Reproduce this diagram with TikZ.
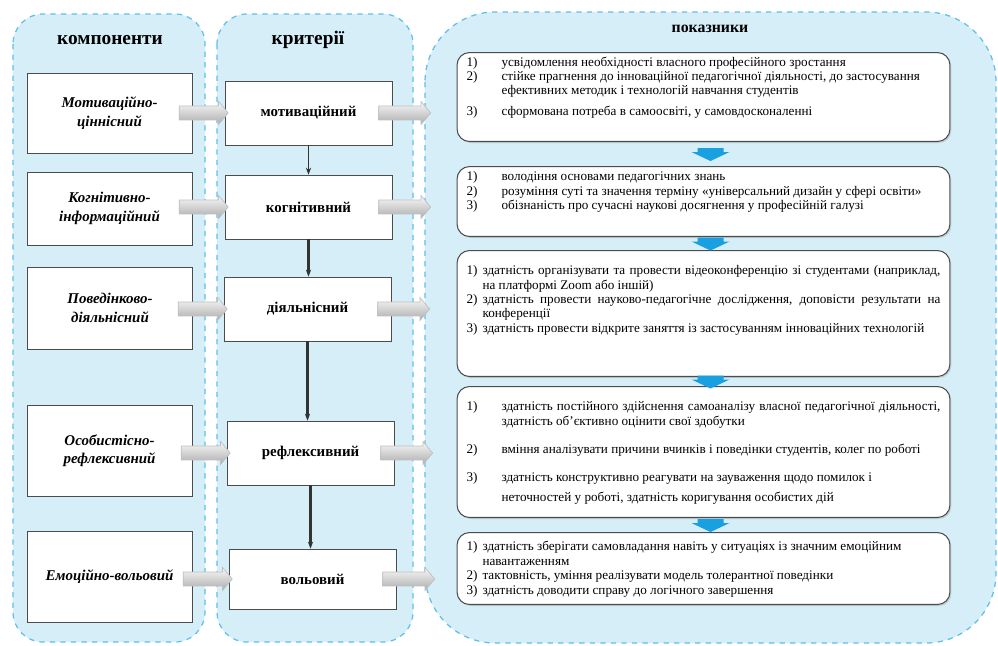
\documentclass[tikz,border=0pt]{standalone}
\usepackage{fontspec}
\setmainfont{Liberation Serif}
\usetikzlibrary{positioning, calc, arrows.meta, shapes.arrows, shadows}

\definecolor{panelblue}{RGB}{213,238,248}
\definecolor{dashblue}{RGB}{95,190,235}
\definecolor{arrowblue}{RGB}{25,160,225}

\newcommand{\pitem}[3]{\par\noindent\hangindent=#1\hangafter=1\makebox[#1][l]{#2}#3}
\newcommand{\rtext}[2]{\begin{minipage}[c][#1][t]{9.48cm}\fontsize{7.5}{8.2}\selectfont #2\end{minipage}}

\begin{document}
\begin{tikzpicture}[x=0.02cm, y=-0.02cm,
  panel/.style={draw=dashblue, dashed, fill=panelblue, line width=0.7pt},
  title/.style={font=\fontsize{11}{13}\selectfont\bfseries},
  kbox/.style={rectangle, draw=gray!60!black, fill=white, minimum width=3.3cm, align=center, font=\fontsize{8.5}{10.5}\selectfont\bfseries\itshape},
  cbox/.style={rectangle, draw=gray!60!black, fill=white, minimum width=3.34cm, minimum height=1.28cm, align=center, font=\fontsize{8.5}{10}\selectfont\bfseries},
  rbox/.style={rectangle, rounded corners=0.25cm, draw=gray!60!black, fill=white, line width=0.6pt, inner xsep=0.19cm, inner ysep=0.1cm, anchor=north, drop shadow={opacity=0.25, shadow xshift=0.03cm, shadow yshift=-0.03cm}},
  garrow/.style={single arrow, draw=gray!50, top color=gray!5, bottom color=gray!65, minimum height=0.98cm, minimum width=0.46cm, inner sep=0.13cm, single arrow head extend=0.09cm, single arrow tip angle=100},
  varrow/.style={-{Stealth[length=4pt]}, black!80, line width=1.3pt}]
\useasboundingbox (0,0) rectangle (998,646);

\draw[panel, rounded corners=0.6cm] (13,14) rectangle (205,642);
\draw[panel, rounded corners=0.6cm] (217,14) rectangle (413,642);
\draw[panel, rounded corners=1.4cm] (425,12) rectangle (996,643);

\node (tk) [title] at (110,40) {компоненти};
\node (tc) [title] at (308,40) {критерії};
\node (tp) [title, font=\fontsize{9}{11}\selectfont\bfseries] at (710,29) {показники};

\node (k1) [kbox, minimum height=1.6cm] at (109.5,113) {Мотиваційно-\\ціннісний};
\node (k2) [kbox, minimum height=1.46cm] at (109.5,208.5) {Когнітивно-\\інформаційний};
\node (k3) [kbox, minimum height=1.64cm] at (110,308) {Поведінково-\\діяльнісний};
\node (k4) [kbox, minimum height=1.82cm] at (109.5,450.5) {Особистісно-\\рефлексивний};
\node (k5) [kbox, minimum height=1.82cm] at (109.5,576.5) {Емоційно-вольовий};

\node (c1) [cbox] at (308.5,113) {мотиваційний};
\node (c2) [cbox] at (308.5,207) {когнітивний};
\node (c3) [cbox] at (307.5,309) {діяльнісний};
\node (c4) [cbox] at (310.5,453) {рефлексивний};
\node (c5) [cbox, minimum height=1.2cm] at (312.5,579) {вольовий};

\draw [varrow, line width=0.8pt] (c1.south) -- (c1.south |- c2.north);
\draw [varrow] (c2.south) -- (c2.south |- c3.north);
\draw [varrow] (c3.south) -- (c3.south |- c4.north);
\draw [varrow] (c4.south) -- (c4.south |- c5.north);

\foreach \i in {1,...,5} {
  \node [garrow, anchor=tip] at ([xshift=0.08cm]c\i.west) {};
  \node [garrow, anchor=tail, minimum height=1.04cm] at ([xshift=-0.28cm]c\i.east) {};
}

\node (r1) [rbox] at (703.5,52) {\rtext{1.58cm}{\fontsize{7.5}{7.7}\selectfont
\pitem{0.7cm}{1)}{усвідомлення необхідності власного професійного зростання}
\pitem{0.7cm}{2)}{стійке прагнення до інноваційної педагогічної діяльності, до застосування\newline ефективних методик і технологій навчання студентів}
\par\vspace{0.15cm}
\pitem{0.7cm}{3)}{сформована потреба в самоосвіті, у самовдосконаленні}}};

\node (r2) [rbox] at (703.5,166) {\rtext{1.2cm}{
\pitem{0.7cm}{1)}{володіння основами педагогічних знань}
\pitem{0.7cm}{2)}{розуміння суті та значення терміну «універсальний дизайн у сфері освіти»}
\pitem{0.7cm}{3)}{обізнаність про сучасні наукові досягнення у професійній галузі}}};

\node (r3) [rbox] at (703.5,250) {\rtext{2.32cm}{\vspace*{0.2cm}
\pitem{0.32cm}{1)}{здатність організувати та провести відеоконференцію зі студентами (наприклад, на платформі Zoom або іншій)}
\pitem{0.32cm}{2)}{здатність провести науково-педагогічне дослідження, доповісти результати на конференції}
\pitem{0.32cm}{3)}{здатність провести відкрите заняття із застосуванням інноваційних технологій}}};

\node (r4) [rbox] at (703.5,386) {\rtext{2.42cm}{\vspace*{0.2cm}
\pitem{0.7cm}{1)}{здатність постійного здійснення самоаналізу власної педагогічної діяльності, здатність об'єктивно оцінити свої здобутки}
\par\vspace{0.28cm}
\pitem{0.7cm}{2)}{вміння аналізувати причини вчинків і поведінки студентів, колег по роботі}
\par\vspace{0.28cm}
\pitem{0.7cm}{3)}{здатність конструктивно реагувати на зауваження щодо помилок і\\[0.1cm] неточностей у роботі, здатність коригування особистих дій}}};

\node (r5) [rbox] at (703.5,532) {\rtext{1.24cm}{\vspace*{0.08cm}
\pitem{0.32cm}{1)}{здатність зберігати самовладання навіть у ситуаціях із значним емоційним\newline навантаженням}
\pitem{0.32cm}{2)}{тактовність, уміння реалізувати модель толерантної поведінки}
\pitem{0.32cm}{3)}{здатність доводити справу до логічного завершення}}};

\coordinate (m1) at ($(r1.south)!0.5!(r2.north)+(7,0)$);
\coordinate (m2) at ($(r2.south)!0.5!(r3.north)+(7,0)$);
\coordinate (m3) at ($(r3.south)!0.5!(r4.north)+(7,0)$);
\coordinate (m4) at ($(r4.south)!0.5!(r5.north)+(7,0)$);
\foreach \m in {m1,m2,m3,m4}
  \fill[arrowblue] (\m) ++(-13,-6) -- ++(26,0) -- ++(0,4) -- ++(6,0) -- ++(-19,9) -- ++(-19,-9) -- ++(6,0) -- cycle;
\end{tikzpicture}
\end{document}
